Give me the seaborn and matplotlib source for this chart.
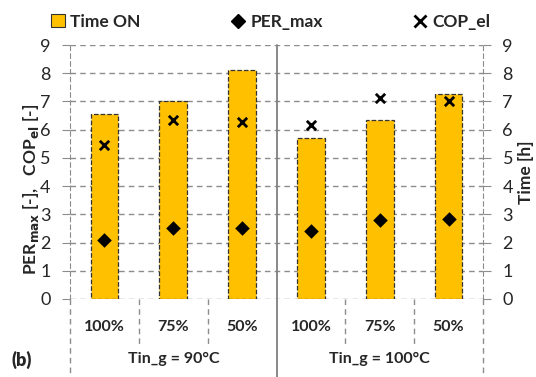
import numpy as np
import pandas as pd
import matplotlib
matplotlib.use('Agg')
import matplotlib.pyplot as plt
from matplotlib.patches import Patch
from matplotlib.lines import Line2D
import seaborn as sns

# data
loads = ['100%', '75%', '50%', '100%', '75%', '50%']
groups = ['Tin_g = 90°C', 'Tin_g = 100°C']
time_on = [6.55, 7.02, 8.1, 5.72, 6.35, 7.27]
per_max = [2.1, 2.52, 2.52, 2.4, 2.8, 2.83]
cop_el = [5.45, 6.35, 6.28, 6.15, 7.12, 7.02]

GOLD = '#FFC000'
GRID = '#8C8C8C'

sns.set_style('white')
plt.rcParams['font.family'] = ['Lato', 'DejaVu Sans']

df = pd.DataFrame({'pos': np.arange(len(loads)), 'time': time_on,
                   'per': per_max, 'cop': cop_el})

fig = plt.figure(figsize=(5.36, 3.77), dpi=100)
ax = fig.add_axes([0.1306, 0.2069, 0.7706, 0.6737])

sns.barplot(data=df, x='pos', y='time', color=GOLD, width=0.4,
            saturation=1, native_scale=True, ax=ax, zorder=2,
            edgecolor='#333333', linewidth=0.9, linestyle='--')
sns.scatterplot(data=df, x='pos', y='per', marker='D', color='black',
                s=55, ax=ax, zorder=4, linewidth=0)
sns.scatterplot(data=df, x='pos', y='cop', marker='x', color='black',
                s=45, ax=ax, zorder=4, linewidth=2)

ax.set_xlim(-0.5, len(loads) - 0.5)
ax.set_ylim(0, 9)
ax.set_yticks(range(10))
ax.yaxis.grid(True, color=GRID, linestyle=(0, (4, 3)), linewidth=1, zorder=0)
ax.set_axisbelow(True)
for s in ['left', 'right']:
    ax.spines[s].set_color(GRID)
    ax.spines[s].set_linestyle((0, (4, 3)))
ax.spines['top'].set_visible(False)
ax.spines['bottom'].set_visible(False)
ax.tick_params(axis='y', direction='out', length=6, color=GRID,
               labelsize=13, pad=8, left=True)
ax.set_xticks([])
ax.set_xlabel('')
ax.set_ylabel(r'PER$_{\mathbf{max}}$ [-],   COP$_{\mathbf{el}}$ [-]',
              fontsize=12.5, fontweight='bold', va='center')
ax.yaxis.set_label_coords(-0.094, 0.43)

ax2 = ax.twinx()
ax2.set_position(ax.get_position())
ax2.set_ylim(0, 9)
ax2.set_yticks(range(10))
ax2.tick_params(axis='y', direction='out', length=6, color=GRID,
                labelsize=13, pad=8, right=True)
for s in ax2.spines.values():
    s.set_visible(False)
ax2.set_ylabel('Time [h]', fontsize=12.5, fontweight='bold', va='center')
ax2.yaxis.set_label_coords(1.103, 0.5)

# category axis (two levels)
trans = ax.get_xaxis_transform()
for i, lab in enumerate(loads):
    ax.text(i, -0.11, lab, transform=trans, ha='center', va='center',
            fontsize=11.5, fontweight='bold')
    if i % 3 != 0:
        ax.plot([i - 0.5, i - 0.5], [0, -0.18], transform=trans, color=GRID,
                linestyle=(0, (4, 3)), linewidth=1, clip_on=False)
n = len(loads) // len(groups)
for g, name in enumerate(groups):
    ax.text(g * n + (n - 1) / 2, -0.235, name, transform=trans, ha='center',
            va='center', fontsize=11.5, fontweight='bold')
for edge in [-0.5, len(loads) - 0.5]:
    ax.plot([edge, edge], [0, -0.29], transform=trans, color=GRID,
            linestyle=(0, (4, 3)), linewidth=1, clip_on=False)
ax.plot([n - 0.5, n - 0.5], [1, -0.31], transform=trans, color='#808080',
        linewidth=1.3, clip_on=False, zorder=5)

fig.text(0.04, 0.045, '(b)', fontsize=13, fontweight='heavy', ha='center',
         va='center')

handles = [Patch(facecolor=GOLD, edgecolor='#333333', linewidth=0.8),
           Line2D([], [], marker='D', color='black', linestyle='none',
                  markersize=7),
           Line2D([], [], marker='x', color='black', linestyle='none',
                  markersize=8, markeredgewidth=2)]
fig.legend(handles, ['Time ON', 'PER_max', 'COP_el'], ncol=3,
           loc='center', bbox_to_anchor=(0.505, 0.942), frameon=False,
           prop={'weight': 'bold', 'size': 12.5}, handlelength=0.8,
           handletextpad=0.3, columnspacing=5.2, handleheight=0.8)

fig.savefig('out.png', dpi=100)
